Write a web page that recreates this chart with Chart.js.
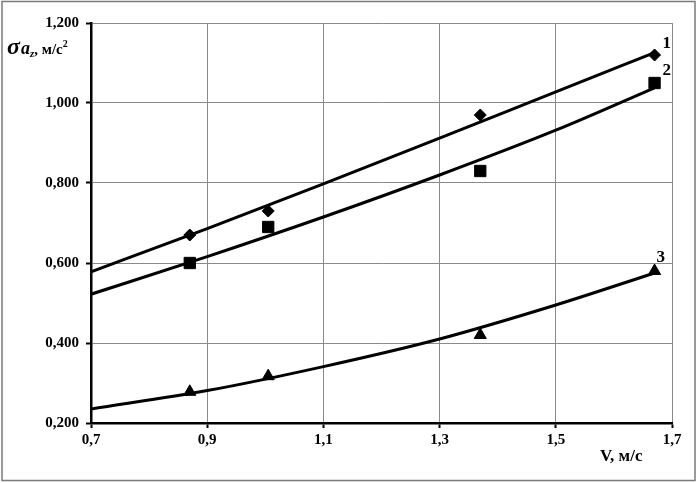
<!DOCTYPE html>
<html>
<head>
<meta charset="utf-8">
<script src="https://cdn.jsdelivr.net/npm/chart.js@4/dist/chart.umd.min.js"></script>
<style>
  html, body { margin: 0; padding: 0; background: #fff; }
  #wrap { width: 700px; height: 483px; position: relative; }
</style>
</head>
<body>
<div id="wrap"><canvas id="c" width="700" height="483"></canvas></div>
<script>
// Measured points
const vSpeed  = [0.87, 1.005, 1.37, 1.67];
const series1 = [0.67, 0.73, 0.97, 1.12];
const series2 = [0.60, 0.69, 0.83, 1.05];
const series3 = [0.278, 0.317, 0.42, 0.58];
// Trend curves
const trendV = [0.7, 0.9, 1.1, 1.3, 1.5, 1.67];
const trend1 = [0.578, 0.686, 0.798, 0.912, 1.028, 1.126];
const trend2 = [0.522, 0.616, 0.715, 0.820, 0.932, 1.038];
const trend3 = [0.235, 0.281, 0.341, 0.410, 0.495, 0.575];
// Axis ticks
const xTicks = [0.7, 0.9, 1.1, 1.3, 1.5, 1.7];
const yTicks = [0.2, 0.4, 0.6, 0.8, 1.0, 1.2];
const curveLabels = ['1', '2', '3'];
const xTitle = 'V, м/с';

const pts = (xs, ys) => xs.map((x, i) => ({x: x, y: ys[i]}));
const serif = '"Liberation Serif", "Times New Roman", serif';

const lineDs = (ys) => ({
  data: pts(trendV, ys), showLine: true, pointRadius: 0,
  borderColor: '#000', borderWidth: 3, cubicInterpolationMode: 'monotone', fill: false
});
const markDs = (ys, style, r) => ({
  data: pts(vSpeed, ys), showLine: false, pointStyle: style, pointRadius: r,
  backgroundColor: '#000', borderColor: '#000', borderWidth: 1
});

const deco = {
  id: 'deco',
  beforeDraw(chart) {
    const ctx = chart.ctx;
    ctx.save();
    ctx.fillStyle = '#fff';
    ctx.fillRect(0, 0, chart.width, chart.height);
    ctx.restore();
  },
  afterDraw(chart) {
    const ctx = chart.ctx;
    const xs = chart.scales.x, ys = chart.scales.y;
    ctx.save();
    // outer frame
    ctx.strokeStyle = '#7a7a7a';
    ctx.lineWidth = 1.5;
    ctx.strokeRect(2, 1.5, 693, 479);
    ctx.fillStyle = '#000';
    ctx.textBaseline = 'alphabetic';
    // y title
    let x = 7, b = 54;
    ctx.font = 'italic bold 24px ' + serif;
    ctx.fillText('σ', x, b); x += ctx.measureText('σ').width + 1;
    ctx.font = 'italic bold 18px ' + serif;
    ctx.fillText('a', x, b); x += ctx.measureText('a').width;
    ctx.font = 'italic bold 11px ' + serif;
    ctx.fillText('z', x, b + 3); x += ctx.measureText('z').width;
    ctx.font = 'bold 15px ' + serif;
    ctx.fillText(', м/с', x, b); x += ctx.measureText(', м/с').width;
    ctx.font = 'bold 10px ' + serif;
    ctx.fillText('2', x, b - 7);
    // x title
    ctx.font = 'bold 17px ' + serif;
    ctx.fillText(xTitle, 600, 461);
    // curve numbers
    ctx.font = 'bold 17px ' + serif;
    const lastX = xs.getPixelForValue(vSpeed[3]);
    ctx.fillText(curveLabels[0], lastX + 8, ys.getPixelForValue(series1[3]) - 7);
    ctx.fillText(curveLabels[1], lastX + 8, ys.getPixelForValue(series2[3]) - 8);
    ctx.fillText(curveLabels[2], lastX + 2, ys.getPixelForValue(series3[3]) - 9);
    ctx.restore();
  }
};

new Chart(document.getElementById('c'), {
  type: 'scatter',
  data: {
    datasets: [
      lineDs(trend1), lineDs(trend2), lineDs(trend3),
      markDs(series1, 'rectRot', 6),
      markDs(series2, 'rect', 8),
      markDs(series3, 'triangle', 7)
    ]
  },
  options: {
    responsive: false,
    animation: false,
    layout: { padding: { left: 0, right: 28, top: 23, bottom: 0 } },
    plugins: { legend: { display: false }, tooltip: { enabled: false } },
    scales: {
      x: {
        type: 'linear', min: 0.7, max: 1.7,
        afterBuildTicks: (s) => { s.ticks = xTicks.map(v => ({value: v})); },
        afterFit: (s) => { s.height = 60; },
        grid: { color: '#8a8a8a', lineWidth: 1, tickColor: '#000', tickLength: 5, tickWidth: 2 },
        border: { color: '#000', width: 2.5 },
        ticks: {
          color: '#000', padding: 3, maxRotation: 0,
          font: { family: serif, size: 15, weight: 'bold' },
          callback: (v) => Number(v).toFixed(1).replace('.', ',')
        }
      },
      y: {
        type: 'linear', min: 0.2, max: 1.2,
        afterBuildTicks: (s) => { s.ticks = yTicks.map(v => ({value: v})); },
        afterFit: (s) => { s.width = 91; },
        grid: { color: '#8a8a8a', lineWidth: 1, tickColor: '#000', tickLength: 5, tickWidth: 2 },
        border: { color: '#000', width: 2.5 },
        ticks: {
          color: '#000', padding: 7,
          font: { family: serif, size: 15, weight: 'bold' },
          callback: (v) => Number(v).toFixed(3).replace('.', ',')
        }
      }
    }
  },
  plugins: [deco]
});
</script>
</body>
</html>
